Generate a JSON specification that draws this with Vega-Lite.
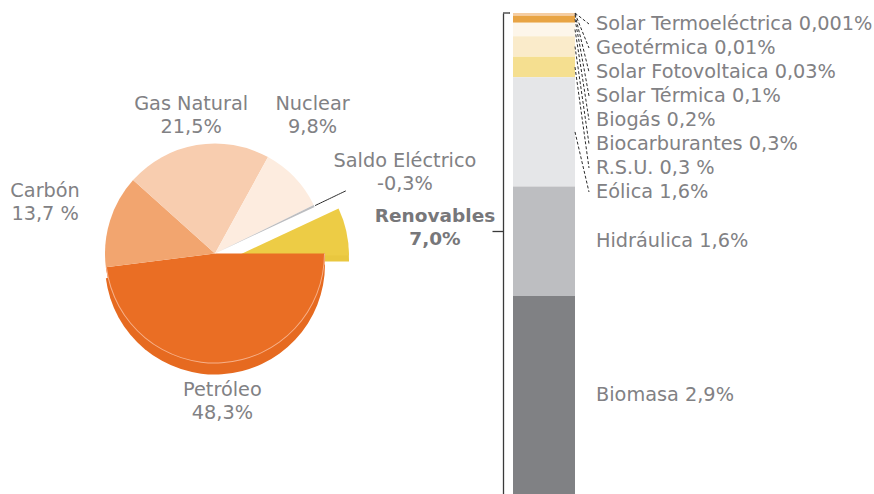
{
  "$schema": "https://vega.github.io/schema/vega-lite/v6.json",
  "padding": 0,
  "background": "white",
  "bounds": "flush",
  "center": true,
  "spacing": 83,
  "resolve": {"scale": {"color": "independent", "theta": "independent"}},
  "config": {
    "view": {"stroke": null},
    "text": {"font": "DejaVu Sans", "fontSize": 19.3, "color": "#818184"}
  },
  "hconcat": [
    {
      "width": 430,
      "height": 507,
      "data": {
        "values": [
          {"fuente": "Petróleo", "valor": 48.3, "etiqueta": "Petróleo\n48,3%"},
          {"fuente": "Carbón", "valor": 13.7, "etiqueta": "Carbón\n13,7 %"},
          {"fuente": "Gas Natural", "valor": 21.5, "etiqueta": "Gas Natural\n21,5%"},
          {"fuente": "Nuclear", "valor": 9.8, "etiqueta": "Nuclear\n9,8%"},
          {"fuente": "Saldo Eléctrico", "valor": 0.3, "etiqueta": "Saldo Eléctrico\n-0,3%"},
          {"fuente": "Renovables", "valor": 7.0, "etiqueta": "Renovables\n7,0%"}
        ]
      },
      "transform": [
        {"window": [{"op": "row_number", "as": "n"}]},
        {"stack": "valor", "groupby": [], "sort": [{"field": "n"}], "as": ["t0", "t1"]},
        {"calculate": "(datum.t0 + datum.t1) / 2", "as": "tm"}
      ],
      "layer": [
        {
          "transform": [{"filter": "datum.fuente == 'Renovables'"}],
          "mark": {"type": "arc", "outerRadius": 111, "xOffset": 23, "yOffset": 8, "color": "#E9C73F"},
          "encoding": {
            "theta": {"field": "t0", "type": "quantitative", "scale": {"domain": [0, 100.6], "range": [1.5708, 7.854], "zero": true, "nice": false}},
            "theta2": {"field": "t1"}
          }
        },
        {
          "transform": [{"filter": "datum.fuente == 'Renovables'"}],
          "mark": {"type": "arc", "outerRadius": 111, "xOffset": 23, "yOffset": 2, "color": "#EDCC45"},
          "encoding": {
            "theta": {"field": "t0", "type": "quantitative"},
            "theta2": {"field": "t1"}
          }
        },
        {
          "transform": [{"filter": "datum.fuente == 'Petróleo'"}],
          "mark": {"type": "arc", "outerRadius": 110, "yOffset": 11, "color": "#E66A20"},
          "encoding": {
            "theta": {"field": "t0", "type": "quantitative"},
            "theta2": {"field": "t1"}
          }
        },
        {
          "transform": [{"filter": "datum.fuente != 'Renovables'"}],
          "mark": {"type": "arc", "outerRadius": 110},
          "encoding": {
            "theta": {"field": "t0", "type": "quantitative"},
            "theta2": {"field": "t1"},
            "color": {
              "field": "fuente",
              "type": "nominal",
              "legend": null,
              "scale": {
                "domain": ["Petróleo", "Carbón", "Gas Natural", "Nuclear", "Saldo Eléctrico", "Renovables"],
                "range": ["#EA6E24", "#F2A56F", "#F8CDAF", "#FDECDF", "#BCBDC0", "#EDCC45"]
              }
            }
          }
        },
        {
          "transform": [{"filter": "datum.fuente == 'Petróleo'"}],
          "mark": {"type": "arc", "innerRadius": 109, "outerRadius": 110, "color": "#F6B089"},
          "encoding": {
            "theta": {"field": "t0", "type": "quantitative"},
            "theta2": {"field": "t1"}
          }
        },
        {
          "transform": [{"filter": "datum.fuente == 'Saldo Eléctrico'"}],
          "mark": {"type": "arc", "filled": false, "innerRadius": 111, "outerRadius": 145, "color": "#2b2b2b", "strokeWidth": 1, "strokeDash": [2, 2]},
          "encoding": {
            "theta": {"field": "tm", "type": "quantitative"},
            "theta2": {"field": "tm"}
          }
        },
        {
          "transform": [{"filter": "datum.fuente == 'Petróleo'"}],
          "mark": {"type": "text", "radius": 150, "dx": -2, "dy": -13, "align": "center", "baseline": "middle", "lineBreak": "\n", "lineHeight": 23},
          "encoding": {
            "theta": {"field": "tm", "type": "quantitative"},
            "text": {"field": "etiqueta"}
          }
        },
        {
          "transform": [{"filter": "datum.fuente == 'Gas Natural'"}],
          "mark": {"type": "text", "radius": 142, "dy": -10, "align": "center", "baseline": "middle", "lineBreak": "\n", "lineHeight": 23},
          "encoding": {
            "theta": {"field": "tm", "type": "quantitative"},
            "text": {"field": "etiqueta"}
          }
        },
        {
          "transform": [{"filter": "datum.fuente == 'Carbón'"}],
          "mark": {"type": "text", "radius": 178, "dy": -9, "align": "center", "baseline": "middle", "lineBreak": "\n", "lineHeight": 23},
          "encoding": {
            "theta": {"field": "tm", "type": "quantitative"},
            "text": {"field": "etiqueta"}
          }
        },
        {
          "transform": [{"filter": "datum.fuente == 'Nuclear'"}],
          "mark": {"type": "text", "radius": 168, "dx": -24, "dy": -34, "align": "center", "baseline": "middle", "lineBreak": "\n", "lineHeight": 23},
          "encoding": {
            "theta": {"field": "tm", "type": "quantitative"},
            "text": {"field": "etiqueta"}
          }
        },
        {
          "transform": [{"filter": "datum.fuente == 'Saldo Eléctrico'"}],
          "mark": {"type": "text", "radius": 205, "dx": 5, "dy": -4, "align": "center", "baseline": "middle", "lineBreak": "\n", "lineHeight": 23},
          "encoding": {
            "theta": {"field": "tm", "type": "quantitative"},
            "text": {"field": "etiqueta"}
          }
        },
        {
          "transform": [{"filter": "datum.fuente == 'Renovables'"}],
          "mark": {"type": "text", "radius": 210, "dx": 15, "dy": 8, "align": "center", "baseline": "middle", "lineBreak": "\n", "lineHeight": 23, "fontWeight": "bold", "fontSize": 18.5, "color": "#77777a"},
          "encoding": {
            "theta": {"field": "tm", "type": "quantitative"},
            "text": {"field": "etiqueta"}
          }
        }
      ]
    },
    {
      "width": 62,
      "height": 481,
      "data": {
        "values": [
          {"fuente": "Solar Termoeléctrica", "valor": 0.001, "etiqueta": "Solar Termoeléctrica 0,001%", "grupo": "Renovables"},
          {"fuente": "Geotérmica", "valor": 0.01, "etiqueta": "Geotérmica 0,01%", "grupo": "Renovables"},
          {"fuente": "Solar Fotovoltaica", "valor": 0.03, "etiqueta": "Solar Fotovoltaica 0,03%", "grupo": "Renovables"},
          {"fuente": "Solar Térmica", "valor": 0.1, "etiqueta": "Solar Térmica 0,1%", "grupo": "Renovables"},
          {"fuente": "Biogás", "valor": 0.2, "etiqueta": "Biogás 0,2%", "grupo": "Renovables"},
          {"fuente": "Biocarburantes", "valor": 0.3, "etiqueta": "Biocarburantes 0,3%", "grupo": "Renovables"},
          {"fuente": "R.S.U.", "valor": 0.3, "etiqueta": "R.S.U. 0,3 %", "grupo": "Renovables"},
          {"fuente": "Eólica", "valor": 1.6, "etiqueta": "Eólica 1,6%", "grupo": "Renovables"},
          {"fuente": "Hidráulica", "valor": 1.6, "etiqueta": "Hidráulica 1,6%", "grupo": "Renovables"},
          {"fuente": "Biomasa", "valor": 2.9, "etiqueta": "Biomasa 2,9%", "grupo": "Renovables"}
        ]
      },
      "transform": [
        {"window": [{"op": "row_number", "as": "n"}]},
        {"stack": "valor", "groupby": [], "sort": [{"field": "n", "order": "descending"}], "as": ["y0", "y1"]},
        {"calculate": "(datum.y0 + datum.y1) / 2", "as": "ym"},
        {"calculate": "datum.n <= 8 ? 7.2313 - 0.35131 * datum.n : datum.ym", "as": "ly"}
      ],
      "layer": [
        {
          "mark": {"type": "bar"},
          "encoding": {
            "x": {"field": "grupo", "type": "nominal", "axis": null, "scale": {"paddingInner": 0, "paddingOuter": 0}},
            "y": {
              "field": "y0",
              "type": "quantitative",
              "scale": {"nice": false, "zero": true},
              "axis": {
                "orient": "left",
                "offset": 10,
                "title": null,
                "labels": false,
                "grid": false,
                "domain": true,
                "domainColor": "#3a3a3a",
                "domainWidth": 1.3,
                "ticks": true,
                "values": [3.85],
                "tickColor": "#3a3a3a",
                "tickWidth": 1.3,
                "tickSize": 11
              }
            },
            "y2": {"field": "y1"},
            "color": {
              "field": "fuente",
              "type": "nominal",
              "legend": null,
              "scale": {
                "domain": ["Solar Termoeléctrica", "Geotérmica", "Solar Fotovoltaica", "Solar Térmica", "Biogás", "Biocarburantes", "R.S.U.", "Eólica", "Hidráulica", "Biomasa"],
                "range": ["#E69A3C", "#F0BC80", "#F5CDA3", "#E8A444", "#FDF6EA", "#FAEBCA", "#F5DF90", "#E5E6E8", "#BDBEC1", "#808184"]
              }
            }
          }
        },
        {
          "transform": [{"filter": "datum.n == 1"}],
          "mark": {"type": "rule", "color": "#3a3a3a", "strokeWidth": 1.3, "xOffset": -41, "x2Offset": -34},
          "encoding": {
            "x": {"field": "grupo", "type": "nominal"},
            "x2": {"field": "grupo"},
            "y": {"field": "y1", "type": "quantitative"}
          }
        },
        {
          "transform": [{"filter": "datum.n <= 8"}],
          "mark": {"type": "rule", "color": "#2b2b2b", "strokeWidth": 1, "strokeDash": [3, 2], "xOffset": 31, "x2Offset": 45},
          "encoding": {
            "x": {"field": "grupo", "type": "nominal"},
            "x2": {"field": "grupo"},
            "y": {"field": "ym", "type": "quantitative"},
            "y2": {"field": "ly"}
          }
        },
        {
          "mark": {"type": "text", "align": "left", "baseline": "middle", "dx": 52},
          "encoding": {
            "x": {"field": "grupo", "type": "nominal"},
            "y": {"field": "ly", "type": "quantitative"},
            "text": {"field": "etiqueta"}
          }
        }
      ]
    }
  ]
}
